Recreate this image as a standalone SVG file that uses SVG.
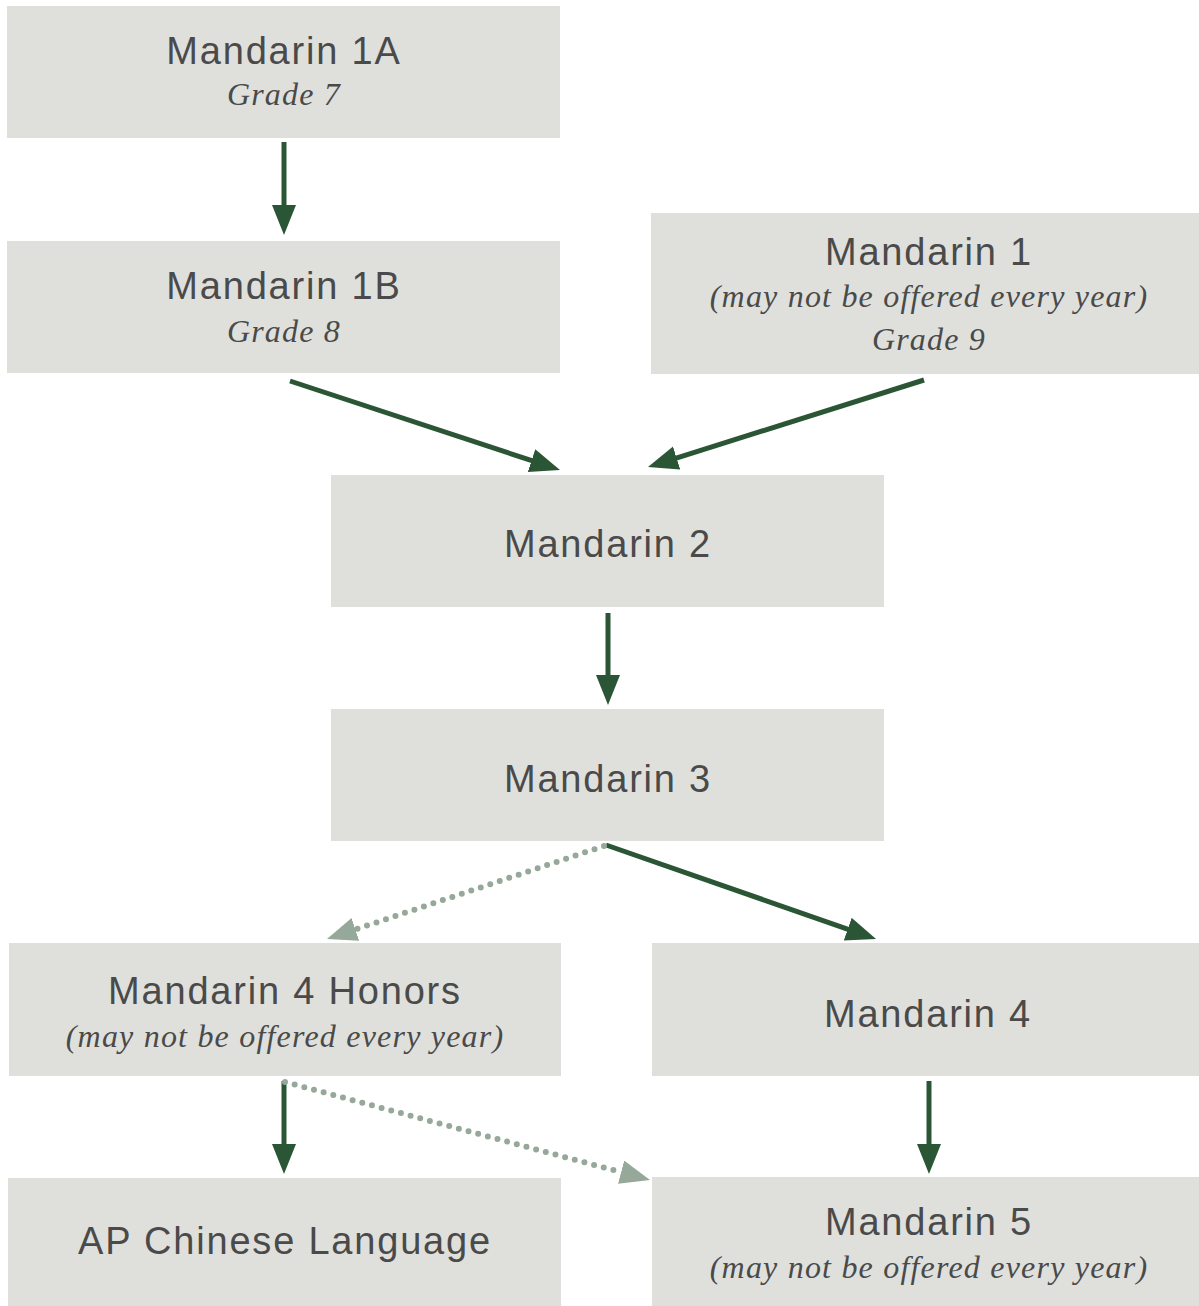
<svg xmlns="http://www.w3.org/2000/svg" width="1199" height="1306" viewBox="0 0 1199 1306">
<style>
.box{fill:#dfe0dc}
.t{font-family:"Liberation Sans",Arial,sans-serif;font-size:38px;fill:#4a4a4a;text-anchor:middle;letter-spacing:1.8px}
.s{font-family:"Liberation Serif","Times New Roman",serif;font-style:italic;font-size:32px;fill:#4a4a4a;text-anchor:middle;letter-spacing:1.2px}
.solid{stroke:#2b5636;stroke-width:5;fill:none;marker-end:url(#ah)}
.dot{stroke:#96a899;stroke-width:6;fill:none;stroke-linecap:round;stroke-dasharray:0 10;marker-end:url(#ahl)}
</style>
<defs>
<marker id="ah" markerUnits="userSpaceOnUse" markerWidth="30" markerHeight="26" refX="2" refY="12" orient="auto"><path d="M0,0 L30,12 L0,24 z" fill="#2b5636"/></marker>
<marker id="ahl" markerUnits="userSpaceOnUse" markerWidth="30" markerHeight="26" refX="2" refY="12" orient="auto"><path d="M0,0 L30,12 L0,24 z" fill="#96a899"/></marker>
</defs>
<rect width="1199" height="1306" fill="#ffffff"/>
<g id="n1a"><rect class="box" x="7" y="6" width="553" height="132"/><text class="t" x="284" y="64">Mandarin 1A</text><text class="s" x="284" y="105">Grade 7</text></g>
<g id="n1b"><rect class="box" x="7" y="241" width="553" height="132"/><text class="t" x="284" y="299">Mandarin 1B</text><text class="s" x="284" y="342">Grade 8</text></g>
<g id="n1"><rect class="box" x="651" y="213" width="548" height="161"/><text class="t" x="929" y="265">Mandarin 1</text><text class="s" x="929" y="307">(may not be offered every year)</text><text class="s" x="929" y="350">Grade 9</text></g>
<g id="n2"><rect class="box" x="331" y="475" width="553" height="132"/><text class="t" x="608" y="557">Mandarin 2</text></g>
<g id="n3"><rect class="box" x="331" y="709" width="553" height="132"/><text class="t" x="608" y="792">Mandarin 3</text></g>
<g id="n4h"><rect class="box" x="9" y="943" width="552" height="133"/><text class="t" x="285" y="1004">Mandarin 4 Honors</text><text class="s" x="285" y="1047">(may not be offered every year)</text></g>
<g id="n4"><rect class="box" x="652" y="943" width="547" height="133"/><text class="t" x="928" y="1027">Mandarin 4</text></g>
<g id="nap"><rect class="box" x="8" y="1178" width="553" height="128"/><text class="t" x="285" y="1254">AP Chinese Language</text></g>
<g id="n5"><rect class="box" x="652" y="1177" width="547" height="129"/><text class="t" x="929" y="1235">Mandarin 5</text><text class="s" x="929" y="1278">(may not be offered every year)</text></g>
<g id="connectors">
<line class="solid" x1="284" y1="142" x2="284" y2="207"/>
<line class="solid" x1="290" y1="381" x2="533.4" y2="461.2"/>
<line class="solid" x1="924" y1="380" x2="674.7" y2="458.6"/>
<line class="solid" x1="608" y1="613" x2="608" y2="677"/>
<line class="solid" x1="606" y1="845" x2="849.6" y2="929.8"/>
<line class="dot" x1="604" y1="846" x2="353.5" y2="930.1"/>
<line class="solid" x1="284" y1="1081" x2="284" y2="1146"/>
<line class="dot" x1="285" y1="1082" x2="623" y2="1172.7"/>
<line class="solid" x1="929" y1="1081" x2="929" y2="1146"/>
</g>
</svg>
